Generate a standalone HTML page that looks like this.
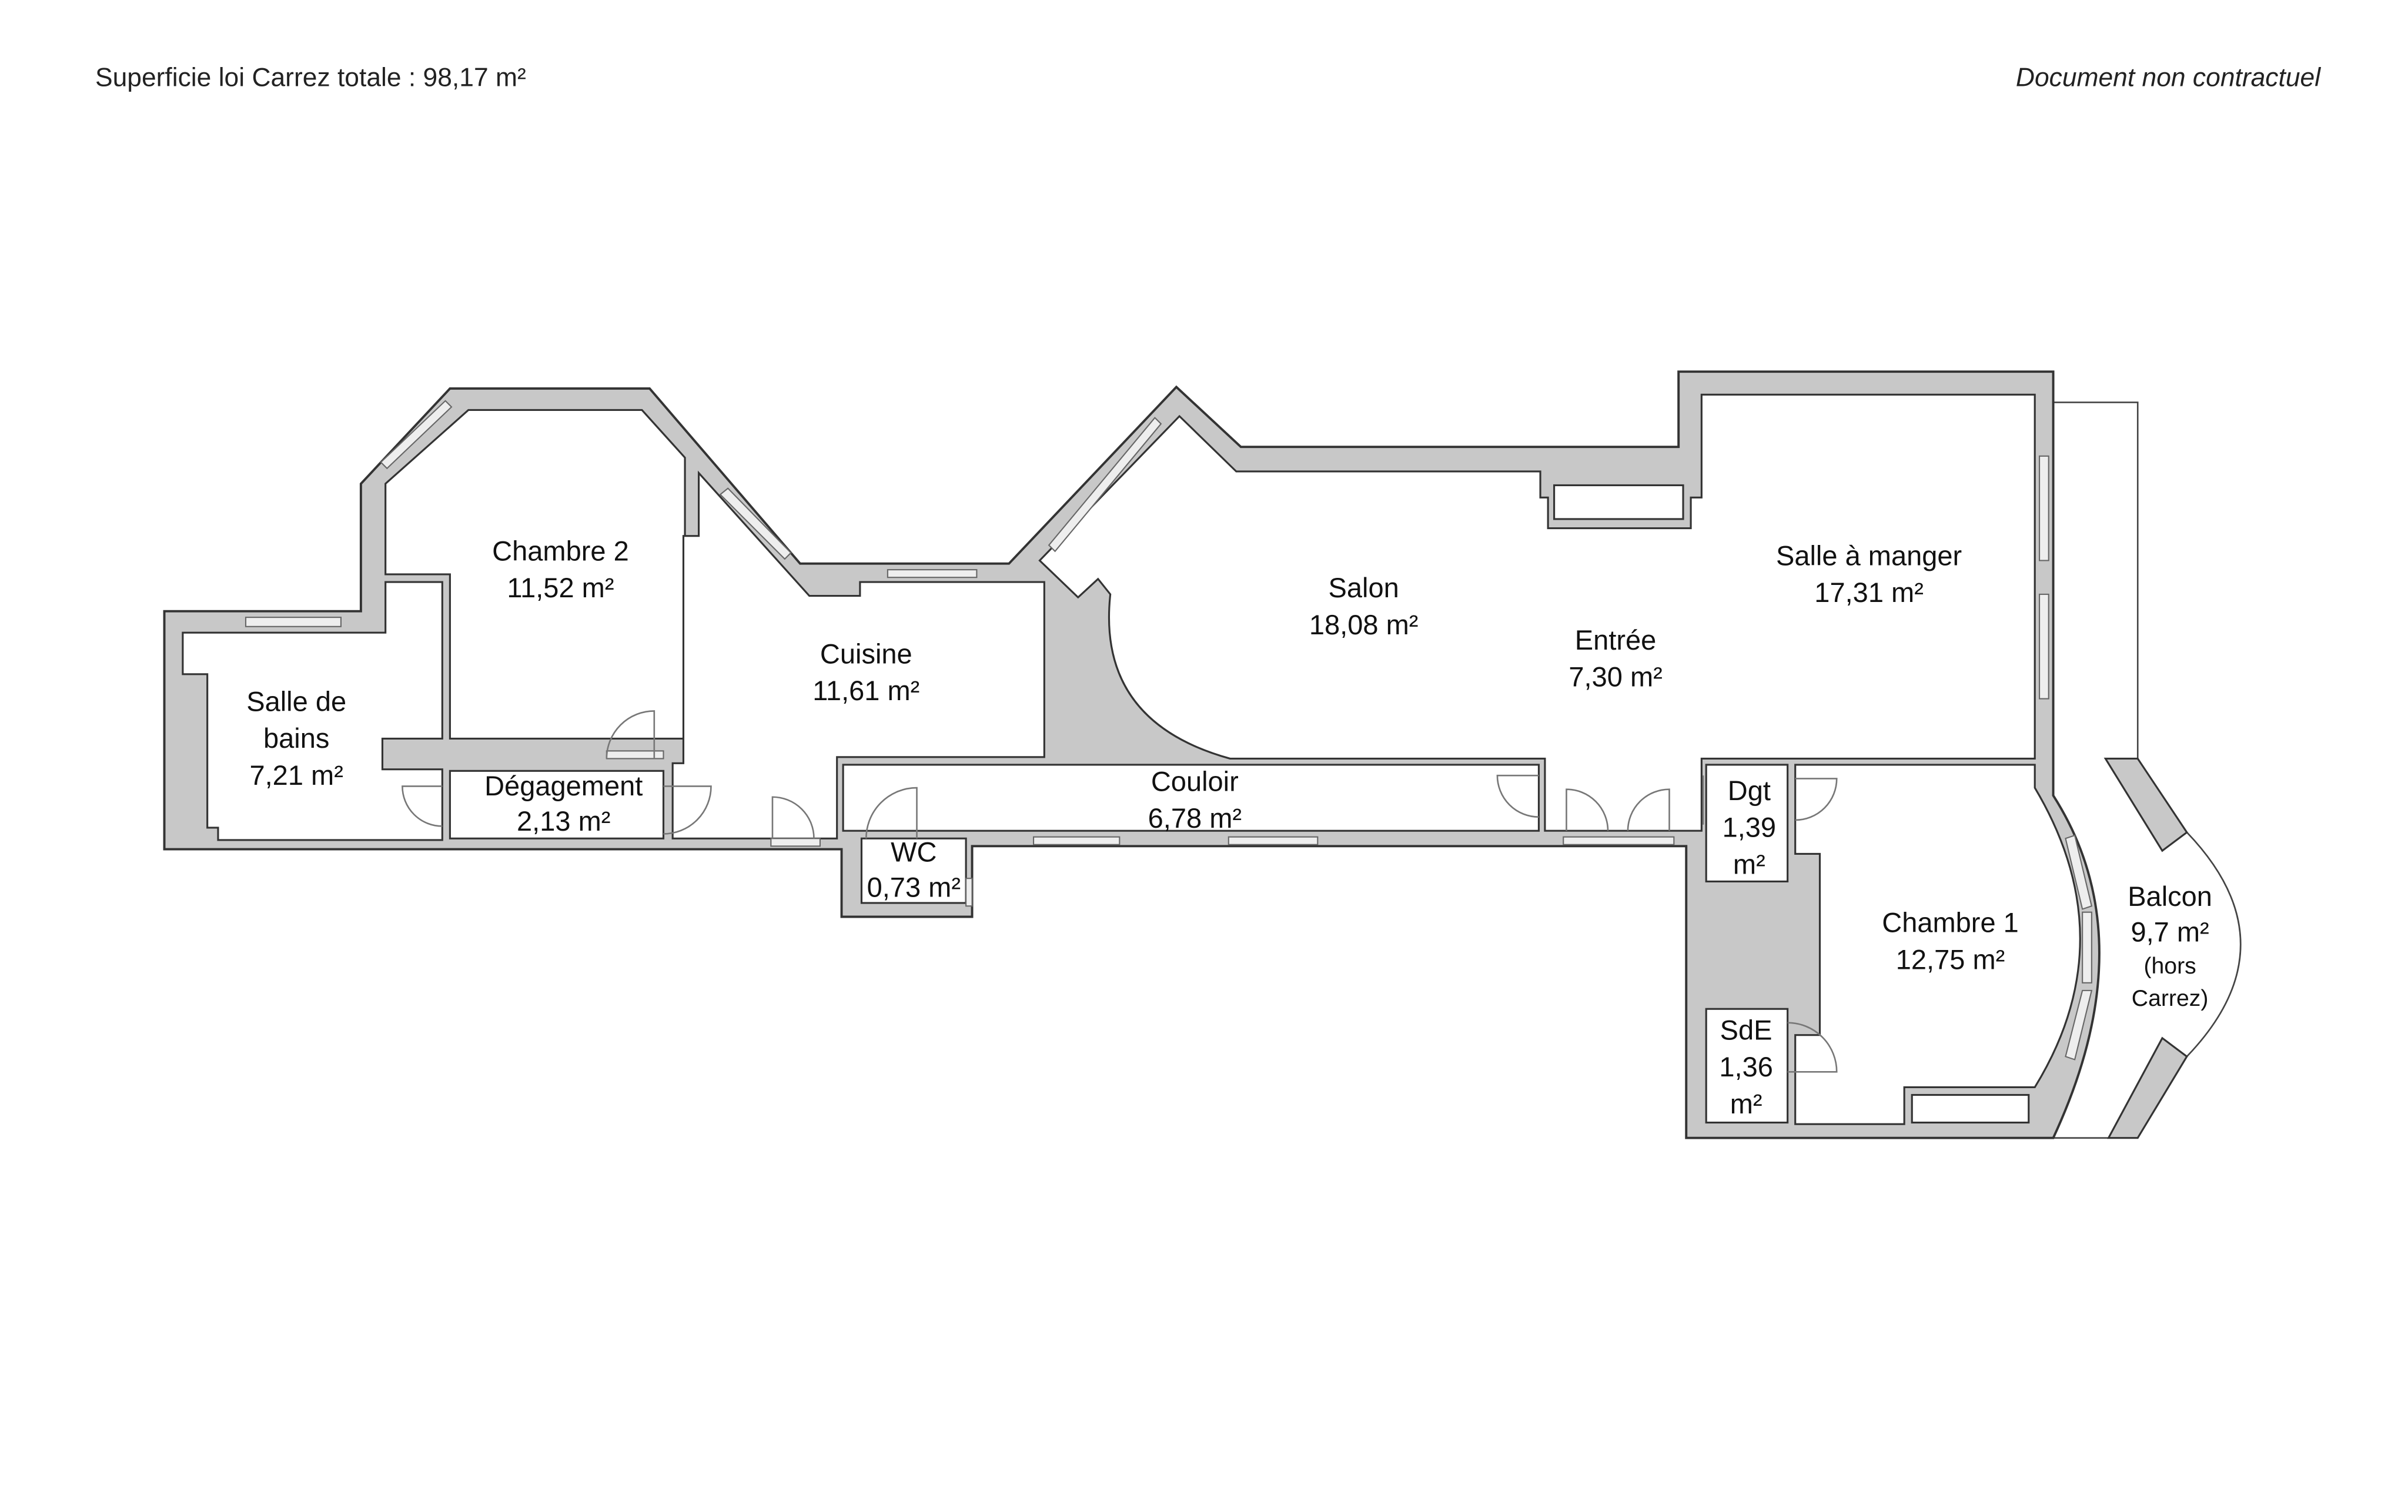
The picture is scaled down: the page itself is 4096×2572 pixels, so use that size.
<!DOCTYPE html>
<html><head><meta charset="utf-8"><style>html,body{margin:0;padding:0;background:#fff}svg{display:block}</style></head><body>
<svg width="4096" height="2572" viewBox="0 0 1568 984.6" xmlns="http://www.w3.org/2000/svg" font-family="Liberation Sans, sans-serif">
<rect x="0" y="0" width="1568" height="985" fill="#fff"/>
<text x="62" y="56" font-size="17" fill="#222">Superficie loi Carrez totale :  98,17 m²</text>
<text x="1511" y="56" font-size="17" fill="#222" font-style="italic" text-anchor="end">Document non contractuel</text>
<!-- balcony lines -->
<g fill="none" stroke="#444" stroke-width="1">
<polyline points="1337,262 1392,262 1392,494"/>
<line x1="1337" y1="741" x2="1374" y2="741"/>
<path d="M1424,542 Q1494,615 1424,688"/>
</g>
<polygon points="1371,494 1392,494 1424,542 1408,554" fill="#c8c8c8" stroke="#333" stroke-width="1.2"/>
<polygon points="1408,676 1424,688 1392,741 1373,741" fill="#c8c8c8" stroke="#333" stroke-width="1.2"/>
<!-- outer walls -->
<path d="M107,398 L235,398 L235,315 L293,253 L423,253 L521,367 L657,367 L766,252 L808,291 L1093,291 L1093,242 L1337,242 L1337,518 Q1397,612 1337,741 L1098,741 L1098,551 L633,551 L633,597 L548,597 L548,553 L107,553 Z" fill="#c8c8c8" stroke="#333" stroke-width="1.5"/>
<g fill="#fff" stroke="#333" stroke-width="1.2">
<!-- bath -->
<path d="M119,412 L251,412 L251,379 L288,379 L288,481 L249,481 L249,501 L288,501 L288,547 L142,547 L142,539 L135,539 L135,439 L119,439 Z"/>
<!-- chambre 2 -->
<path d="M251,315 L305,267 L418,267 L446,298 L446,481 L293,481 L293,374 L251,374 Z"/>
<!-- degagement -->
<rect x="293" y="502" width="139" height="44"/>
<!-- cuisine -->
<path d="M455,308 L527,388 L560,388 L560,379 L680,379 L680,493 L545,493 L545,546 L438,546 L438,497 L445,497 L445,349 L455,349 Z"/>
<!-- salon/entree/salle a manger -->
<path d="M677,365 L768,271 L805,307 L1003,307 L1003,324 L1008,324 L1008,344 L1101,344 L1101,324 L1108,324 L1108,257 L1325,257 L1325,494 L1108,494 L1108,541 L1006,541 L1006,494 L801,494 Q714,470 723,387 L715,377 L702,389 Z"/>
<!-- couloir -->
<rect x="549" y="498" width="453" height="43"/>
<!-- WC -->
<rect x="561" y="546" width="68" height="42"/>
<!-- Dgt, SdE -->
<rect x="1111" y="498" width="53" height="76"/>
<rect x="1111" y="657" width="53" height="74"/>
<!-- chambre 1 -->
<path d="M1169,498 L1325,498 L1325,513 Q1384,612 1325,708 L1240,708 L1240,732 L1169,732 L1169,674 L1185,674 L1185,556 L1169,556 Z"/>
<!-- radiators -->
<rect x="1245" y="713" width="76" height="18"/>
<rect x="1012" y="316" width="84" height="22"/>
</g>
<!-- windows -->
<g fill="#eee" stroke="#666" stroke-width="0.8">
<rect x="160" y="402" width="62" height="6"/>
<rect x="578" y="371" width="58" height="5"/>
<rect x="673" y="545" width="56" height="5"/>
<rect x="800" y="545" width="58" height="5"/>
<rect x="1018" y="545" width="72" height="5"/>
<rect x="1328" y="297" width="6" height="68"/>
<rect x="1328" y="387" width="6" height="68"/>
<rect x="629" y="572" width="4" height="18"/>
<rect x="395" y="489" width="37" height="5"/>
<rect x="502" y="546" width="32" height="5"/>
<polygon points="248,301 252,305 294,265 290,261"/>
<polygon points="469,322 474,318 515,360 511,364"/>
<polygon points="683,355 687,359 756,276 752,272"/>
<polygon points="1345,546 1351,544 1362,590 1356,592"/>
<polygon points="1356,594 1362,594 1362,640 1356,640"/>
<polygon points="1356,645 1362,645 1351,690 1345,688"/>
</g>
<!-- doors -->
<g fill="none" stroke="#777" stroke-width="1">
<path d="M288,512 L262,512 A26,26 0 0 0 288,538"/>
<path d="M426,494 L426,463 A31,31 0 0 0 395,494"/>
<path d="M432,512 L463,512 A31,31 0 0 1 432,543"/>
<path d="M503,546 L503,519 A27,27 0 0 1 530,546"/>
<path d="M597,546 L597,513 A33,33 0 0 0 564,546"/>
<path d="M1002,505 L975,505 A27,27 0 0 0 1002,532"/>
<path d="M1020,541 L1020,514 A27,27 0 0 1 1047,541"/>
<path d="M1087,541 L1087,514 A27,27 0 0 0 1060,541"/>
<path d="M1169,507 L1196,507 A27,27 0 0 1 1169,534"/>
<path d="M1164,698 L1196,698 A32,32 0 0 0 1164,666" />
<path d="M1109,505 L1109,537"/>
</g>
<!-- labels -->
<g font-size="18" fill="#111" text-anchor="middle">
<text x="365" y="365">Chambre 2</text><text x="365" y="389">11,52 m²</text>
<text x="193" y="463">Salle de</text><text x="193" y="487">bains</text><text x="193" y="511">7,21 m²</text>
<text x="564" y="432">Cuisine</text><text x="564" y="456">11,61 m²</text>
<text x="367" y="518">Dégagement</text><text x="367" y="541">2,13 m²</text>
<text x="888" y="389">Salon</text><text x="888" y="413">18,08 m²</text>
<text x="1052" y="423">Entrée</text><text x="1052" y="447">7,30 m²</text>
<text x="1217" y="368">Salle à manger</text><text x="1217" y="392">17,31 m²</text>
<text x="778" y="515">Couloir</text><text x="778" y="539">6,78 m²</text>
<text x="595" y="561">WC</text><text x="595" y="584">0,73 m²</text>
<text x="1139" y="521">Dgt</text><text x="1139" y="545">1,39</text><text x="1139" y="569">m²</text>
<text x="1137" y="677">SdE</text><text x="1137" y="701">1,36</text><text x="1137" y="725">m²</text>
<text x="1270" y="607">Chambre 1</text><text x="1270" y="631">12,75 m²</text>
<text x="1413" y="590">Balcon</text><text x="1413" y="613">9,7 m²</text>
<text x="1413" y="634" font-size="15">(hors</text><text x="1413" y="655" font-size="15">Carrez)</text>
</g>
</svg>
</body></html>
